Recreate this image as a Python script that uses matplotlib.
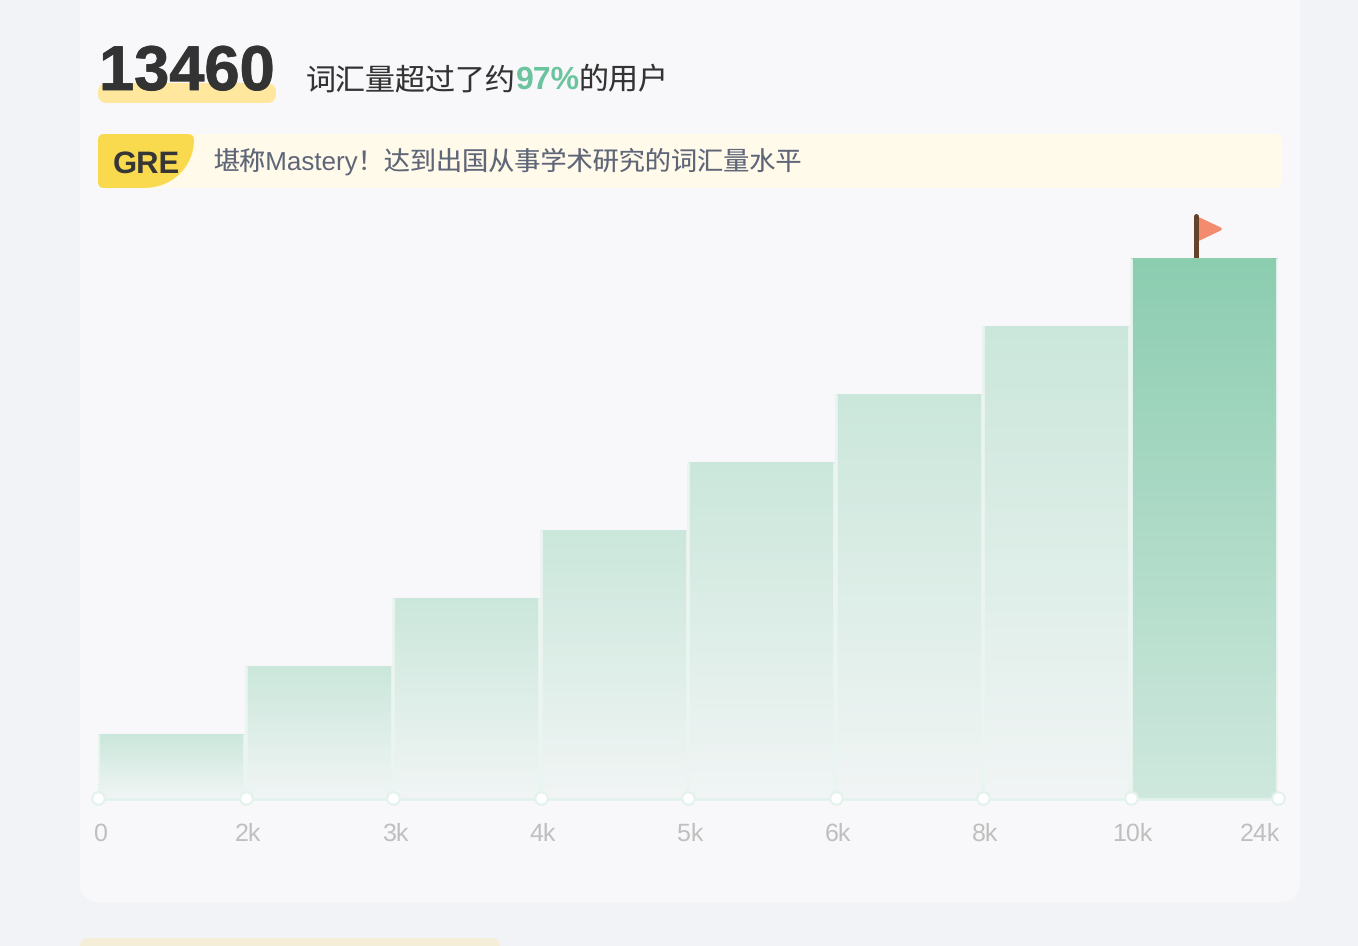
# -*- coding: utf-8 -*-
"""词汇量分布卡片：阶梯柱状图 + 顶部分数与等级条"""
import numpy as np
import matplotlib
matplotlib.use("Agg")
import matplotlib.pyplot as plt
import matplotlib.patheffects as pe
from matplotlib.colors import LinearSegmentedColormap
from matplotlib.patches import FancyBboxPatch, PathPatch, Polygon
from matplotlib.path import Path
from matplotlib.transforms import ScaledTranslation

plt.rcParams["text.hinting"] = "no_hinting"
plt.rcParams["text.hinting_factor"] = 1

W, H = 1358, 946

tick_labels = ["0", "2k", "3k", "4k", "5k", "6k", "8k", "10k", "24k"]
bar_values = [65, 133, 201, 269, 337, 405, 473, 541]
active_bar = 7

score = "13460"
rank_pct = "97%"
level = "GRE"
level_text = "堪称Mastery！达到出国从事学术研究的词汇量水平"

LATIN = ["Liberation Sans", "Noto Sans CJK SC"]
CJK = ["Noto Sans CJK SC", "Liberation Sans"]

fig = plt.figure(figsize=(W / 100, H / 100), dpi=100, facecolor="#f2f3f7")

# 背景层，坐标就是像素
bg = fig.add_axes([0, 0, 1, 1], zorder=0)
bg.set_xlim(0, W)
bg.set_ylim(H, 0)
bg.axis("off")


def rbox(x0, y0, x1, y1, r, color):
    bg.add_patch(FancyBboxPatch((x0 + r, y0 + r), x1 - x0 - 2 * r, y1 - y0 - 2 * r,
                                boxstyle=f"round,pad={r},rounding_size={r}",
                                fc=color, ec="none"))


rbox(80, -40, 1300, 902, 20, "#f8f8fa")
rbox(80, 938, 500, 990, 8, "#f4eed8")

# 分数
rbox(98, 83, 276, 103, 9, "#ffe79e")
bg.text(99, 90, score, family=LATIN, fontsize=45.5, fontweight="bold",
        color="#333333", va="baseline", ha="left",
        path_effects=[pe.withStroke(linewidth=0.6, foreground="#333333")])
bg.text(306, 89, "词汇量超过了约", family=CJK, fontsize=21.6, color="#333333",
        va="baseline", ha="left")
bg.text(516, 89, rank_pct, family=LATIN, fontsize=22.8, fontweight="bold",
        color="#6cc49f", va="baseline", ha="left")
bg.text(579, 89, "的用户", family=CJK, fontsize=21.6, color="#333333",
        va="baseline", ha="left")

# 等级条
rbox(98, 134, 1282, 188, 6, "#fffaea")
verts = [(104, 134), (188, 134), (194, 134), (194, 140),
         (194, 167), (172, 188), (144, 188),
         (104, 188), (98, 188), (98, 182), (98, 140), (98, 134), (104, 134)]
codes = [Path.MOVETO, Path.LINETO, Path.CURVE3, Path.CURVE3,
         Path.CURVE4, Path.CURVE4, Path.CURVE4,
         Path.LINETO, Path.CURVE3, Path.CURVE3, Path.LINETO, Path.CURVE3, Path.CURVE3]
bg.add_patch(PathPatch(Path(verts, codes), fc="#f9da4e", ec="none"))
bg.text(113, 173, level, family=LATIN, fontsize=22.6, fontweight="bold",
        color="#363636", va="baseline", ha="left")
bg.text(213.5, 170, level_text, family=LATIN, fontsize=18.8, color="#5f6678",
        va="baseline", ha="left")

# 小旗
bg.add_patch(Polygon([(1199, 219), (1220, 229), (1199, 239)], closed=True,
                     fc="#f38b6e", ec="#f38b6e", lw=2.5, joinstyle="round"))
bg.plot([1196, 1196], [216, 257], color="#65432a", lw=3.6, solid_capstyle="round")

# 柱状图
ax = fig.add_axes([98 / W, 1 - 799 / H, 1180 / W, 541 / H], zorder=1)
ax.patch.set_alpha(0)
for side in ["top", "left", "right", "bottom"]:
    ax.spines[side].set_visible(False)

normal_cmap = LinearSegmentedColormap.from_list("normal", ["#f1f5f5", "#cbe7db"])
active_cmap = LinearSegmentedColormap.from_list("active", ["#cfe8de", "#8ccdb0"])
grad = np.linspace(1, 0, 128).reshape(-1, 1)

edges = np.arange(len(tick_labels))
bars = ax.bar(edges[:-1] + 0.5, bar_values, width=1.0, color="none", edgecolor="none")
for i, rect in enumerate(bars):
    x0, h = rect.get_x(), rect.get_height()
    cmap = active_cmap if i == active_bar else normal_cmap
    im = ax.imshow(grad, cmap=cmap, vmin=0, vmax=1, aspect="auto",
                   extent=(x0, x0 + 0.992, 0, h), zorder=1, interpolation="bilinear")
    im.set_clip_path(rect)
    # 柱子之间的浅色竖缝
    ax.vlines([x0, x0 + 0.992], 0, h, color="#eaf4f0", lw=2.0, zorder=2)

ax.set_yticks([])
ax.set_xticks(edges)
ax.set_xticklabels(tick_labels, family=LATIN, fontsize=18.2, color="#bfbfbf")
ax.set_xlim(edges[0], edges[-1])
ax.set_ylim(0, max(bar_values))
ax.tick_params(axis="x", length=0, pad=17)

# 标签相对刻度略微右移，最后一个靠右对齐
nudge = ScaledTranslation(2.0 / 100, 0, fig.dpi_scale_trans)
for lab in ax.get_xticklabels():
    lab.set_transform(lab.get_transform() + nudge)
ax.get_xticklabels()[-1].set_ha("right")

ax.axhline(0, color="#e3f2ec", lw=2, zorder=3, clip_on=False)
ax.plot(edges, np.zeros(len(edges)) + 1, ls="none", marker="o", ms=9,
        mfc="white", mec="#e3f2ec", mew=1.6, clip_on=False, zorder=4)

fig.savefig("out.png", dpi=100, facecolor=fig.get_facecolor())
